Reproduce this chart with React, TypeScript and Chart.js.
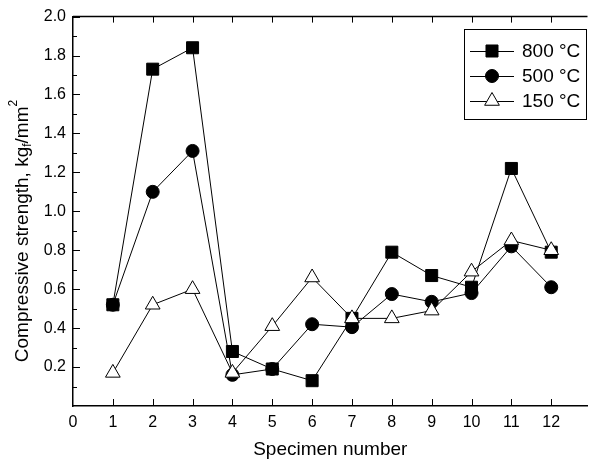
import React, { useEffect, useRef } from "react";
import { Chart, registerables } from "chart.js";

Chart.register(...registerables);

const categories = [1, 2, 3, 4, 5, 6, 7, 8, 9, 10, 11, 12];
const s800 = [0.52, 1.73, 1.84, 0.28, 0.19, 0.13, 0.45, 0.79, 0.67, 0.61, 1.22, 0.79];
const s500 = [0.52, 1.1, 1.31, 0.16, 0.19, 0.42, 0.405, 0.575, 0.535, 0.58, 0.82, 0.61];
const s150 = [0.17, 0.52, 0.6, 0.17, 0.41, 0.66, 0.45, 0.45, 0.49, 0.69, 0.85, 0.8];
const seriesNames = ["800 °C", "500 °C", "150 °C"];
const xTicks = [0, 1, 2, 3, 4, 5, 6, 7, 8, 9, 10, 11, 12];
const yTicks = [0.2, 0.4, 0.6, 0.8, 1.0, 1.2, 1.4, 1.6, 1.8, 2.0];
const yMinorTicks = [0.1, 0.3, 0.5, 0.7, 0.9, 1.1, 1.3, 1.5, 1.7, 1.9];

const FONT = "Arial, 'Liberation Sans', Helvetica, sans-serif";

const toPts = (vals: number[]) => vals.map((v, i) => ({ x: categories[i], y: v }));

const framePlugin = {
  id: "frame",
  afterDraw(chart: any) {
    const { ctx, chartArea } = chart;
    const xs = chart.scales.x;
    const ys = chart.scales.y;
    ctx.save();
    ctx.strokeStyle = "#000";
    ctx.lineWidth = 1.5;
    ctx.beginPath();
    ctx.moveTo(chartArea.left, chartArea.top);
    ctx.lineTo(chartArea.right, chartArea.top);
    ctx.stroke();
    ctx.lineWidth = 1;
    xTicks.forEach((t) => {
      if (t === 0) return;
      const px = Math.round(xs.getPixelForValue(t)) + 0.5;
      ctx.beginPath();
      ctx.moveTo(px, chartArea.bottom);
      ctx.lineTo(px, chartArea.bottom - 7);
      ctx.moveTo(px, chartArea.top);
      ctx.lineTo(px, chartArea.top + 6);
      ctx.stroke();
    });
    yTicks.forEach((t) => {
      const py = Math.round(ys.getPixelForValue(t)) + 0.5;
      ctx.beginPath();
      ctx.moveTo(chartArea.left, py);
      ctx.lineTo(chartArea.left + 7, py);
      ctx.stroke();
    });
    yMinorTicks.forEach((t) => {
      const py = Math.round(ys.getPixelForValue(t)) + 0.5;
      ctx.beginPath();
      ctx.moveTo(chartArea.left, py);
      ctx.lineTo(chartArea.left + 4, py);
      ctx.stroke();
    });

    // y title with sub/superscripts
    const cy = 231;
    const cx = 23;
    const big = `19px ${FONT}`;
    const small = `12px ${FONT}`;
    const parts = [
      { t: "Compressive strength, kg", f: big, dy: 0 },
      { t: "f", f: small, dy: 5 },
      { t: "/mm", f: big, dy: 0 },
      { t: "2", f: small, dy: -9 },
    ];
    let total = 0;
    parts.forEach((p) => {
      ctx.font = p.f;
      total += ctx.measureText(p.t).width;
    });
    ctx.translate(cx, cy);
    ctx.rotate(-Math.PI / 2);
    ctx.fillStyle = "#000";
    ctx.textBaseline = "middle";
    ctx.textAlign = "left";
    let xx = -total / 2;
    parts.forEach((p) => {
      ctx.font = p.f;
      ctx.fillText(p.t, xx, p.dy);
      xx += ctx.measureText(p.t).width;
    });
    ctx.setTransform(1, 0, 0, 1, 0, 0);
    ctx.restore();

    // legend
    ctx.save();
    const bx = 464, by = 29, bw = 122, bh = 90;
    ctx.strokeStyle = "#000";
    ctx.lineWidth = 1;
    ctx.fillStyle = "#fff";
    ctx.fillRect(bx, by, bw, bh);
    ctx.strokeRect(bx + 0.5, by + 0.5, bw, bh);
    const ds = chart.data.datasets;
    const rows = [51, 76, 101];
    ds.forEach((d: any, i: number) => {
      const y = rows[i];
      ctx.beginPath();
      ctx.strokeStyle = "#000";
      ctx.lineWidth = 1;
      ctx.moveTo(470, y + 0.5);
      ctx.lineTo(514, y + 0.5);
      ctx.stroke();
      const r = d.pointRadius;
      ctx.fillStyle = d.pointBackgroundColor;
      ctx.strokeStyle = "#000";
      ctx.beginPath();
      const mx = 492;
      if (d.pointStyle === "rect") {
        const s = Math.SQRT1_2 * r;
        ctx.rect(mx - s, y - s, 2 * s, 2 * s);
      } else if (d.pointStyle === "circle") {
        ctx.arc(mx, y, r, 0, Math.PI * 2);
      } else {
        ctx.moveTo(mx, y - r);
        ctx.lineTo(mx + Math.sin((2 * Math.PI) / 3) * r, y + r / 2);
        ctx.lineTo(mx - Math.sin((2 * Math.PI) / 3) * r, y + r / 2);
        ctx.closePath();
      }
      ctx.fill();
      ctx.stroke();
      ctx.fillStyle = "#000";
      ctx.font = `19px ${FONT}`;
      ctx.textBaseline = "middle";
      ctx.textAlign = "left";
      ctx.fillText(d.label, 522, y + 1);
    });
    ctx.restore();
  },
};

export default function App() {
  const ref = useRef<HTMLCanvasElement>(null);
  useEffect(() => {
    document.body.style.margin = "0";
    const canvas = ref.current;
    if (!canvas) return;
    const common = {
      borderColor: "#000",
      borderWidth: 1,
      pointBorderColor: "#000",
      pointBorderWidth: 1,
      showLine: true,
      fill: false,
      tension: 0,
      clip: false as any,
    };
    const chart = new Chart(canvas, {
      type: "line",
      data: {
        datasets: [
          {
            ...common,
            label: seriesNames[0],
            data: toPts(s800),
            pointStyle: "rect",
            pointRadius: 8.5,
            pointBackgroundColor: "#000",
            order: 2,
          },
          {
            ...common,
            label: seriesNames[1],
            data: toPts(s500),
            pointStyle: "circle",
            pointRadius: 6.5,
            pointBackgroundColor: "#000",
            order: 1,
          },
          {
            ...common,
            label: seriesNames[2],
            data: toPts(s150),
            pointStyle: "triangle",
            pointRadius: 8.5,
            pointBackgroundColor: "#fff",
            order: 0,
          },
        ] as any,
      },
      options: {
        animation: false,
        responsive: false,
        devicePixelRatio: 1,
        layout: { padding: { top: 16, right: 0, left: 0, bottom: 0 } },
        plugins: { legend: { display: false }, tooltip: { enabled: false } },
        scales: {
          x: {
            type: "linear",
            min: 0,
            max: 12.91,
            afterBuildTicks: (s: any) => {
              s.ticks = xTicks.map((v) => ({ value: v }));
            },
            afterFit: (s: any) => {
              s.height = 55;
            },
            grid: { display: false, drawTicks: false },
            border: { display: true, color: "#000", width: 1.5 },
            ticks: {
              color: "#000",
              font: { family: FONT, size: 16 },
              padding: 7,
              maxRotation: 0,
              autoSkip: false,
              callback: (v: any) => String(v),
            },
            title: {
              display: true,
              text: "Specimen number",
              color: "#000",
              font: { family: FONT, size: 19 },
              padding: { top: 3, bottom: 0 },
            },
          },
          y: {
            type: "linear",
            min: 0,
            max: 2.0,
            afterBuildTicks: (s: any) => {
              s.ticks = [0, ...yTicks].map((v) => ({ value: v }));
            },
            afterFit: (s: any) => {
              s.width = 73;
            },
            grid: { display: false, drawTicks: false },
            border: { display: true, color: "#000", width: 1.5 },
            ticks: {
              color: "#000",
              font: { family: FONT, size: 16 },
              padding: 7,
              callback: (v: any) => (v === 0 ? "" : Number(v).toFixed(1)),
            },
          },
        },
      },
      plugins: [framePlugin],
    });
    return () => chart.destroy();
  }, []);
  return <canvas ref={ref} width={597} height={461} style={{ display: "block" }} />;
}
